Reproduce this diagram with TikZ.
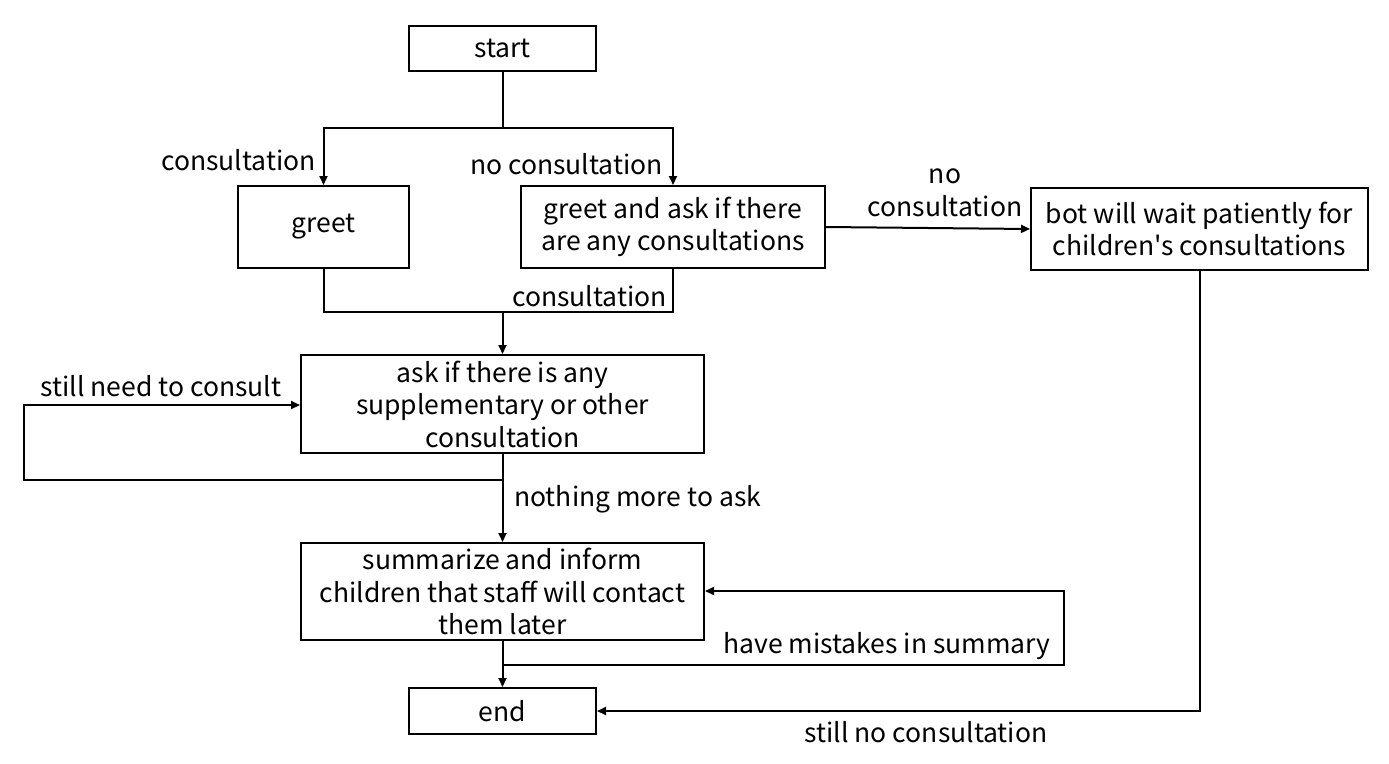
\documentclass[tikz,border=0pt]{standalone}
\usepackage{fontspec}
\setmainfont{Noto Sans CJK JP}[Ligatures=TeXOff]
\usetikzlibrary{arrows.meta}
\begin{document}
\begin{tikzpicture}[x=1pt,y=-1pt,
  box/.style={draw,line width=2pt,inner sep=0pt,align=center,font=\fontsize{26.5}{32.5}\selectfont},
  lbl/.style={inner sep=0pt,align=center,font=\fontsize{26.5}{32.5}\selectfont},
  conn/.style={line width=2pt},
  arr/.style={line width=2pt,-{Triangle[length=9pt,width=8pt]}}]
\useasboundingbox (0,0) rectangle (1389,763);
\node[box,minimum width=187pt,minimum height=45pt] (start) at (502.5,48.5) {start};
\node[box,minimum width=171pt,minimum height=82pt] (greet) at (323.5,227) {greet};
\node[box,minimum width=304pt,minimum height=82pt] (ask) at (673,227) {greet and ask if there\\are any consultations};
\node[box,minimum width=337pt,minimum height=82pt] (bot) at (1199.5,229) {bot will wait patiently for\\children's consultations};
\node[box,minimum width=403pt,minimum height=98pt] (more) at (502.5,404) {ask if there is any\\supplementary or other\\consultation};
\node[box,minimum width=403pt,minimum height=97pt] (sum) at (502.5,591.5) {summarize and inform\\children that staff will contact\\them later};
\node[box,minimum width=187pt,minimum height=46pt] (end) at (502.5,711) {end};

\coordinate (j1) at (502.5,128);
\coordinate (j2) at (502.5,312);
\coordinate (j3) at (502.5,480);
\coordinate (j4) at (502.5,665);

\draw[conn] (start.south) -- (j1);
\draw[arr] (j1) -| (greet.north);
\draw[arr] (j1) -| (ask.north);
\draw[conn] (greet.south) |- (j2);
\draw[conn] (ask.south) |- (j2);
\draw[arr] (j2) -- (more.north);
\draw[arr] (ask.east) -- (bot.west);
\draw[arr] (more.south) -- (sum.north);
\draw[arr] (j3) -| (24,405) -- (more.west |- 0,405);
\draw[arr] (sum.south) -- (end.north);
\draw[arr] (j4) -| (1064,591) -- (sum.east |- 0,591);
\draw[arr] (bot.south) |- (end.east);

\node[lbl,anchor=east] (l1) at (316,160) {consultation};
\node[lbl,anchor=east] (l2) at (663,164) {no consultation};
\node[lbl,anchor=east] (l3) at (667,296) {consultation};
\node[lbl] (l4) at (945,193) {no\\consultation};
\node[lbl] (l5) at (161,386) {still need to consult};
\node[lbl,anchor=west] (l6) at (514,499) {nothing more to ask};
\node[lbl] (l7) at (887,646) {have mistakes in summary};
\node[lbl] (l8) at (926,732) {still no consultation};
\end{tikzpicture}
\end{document}
